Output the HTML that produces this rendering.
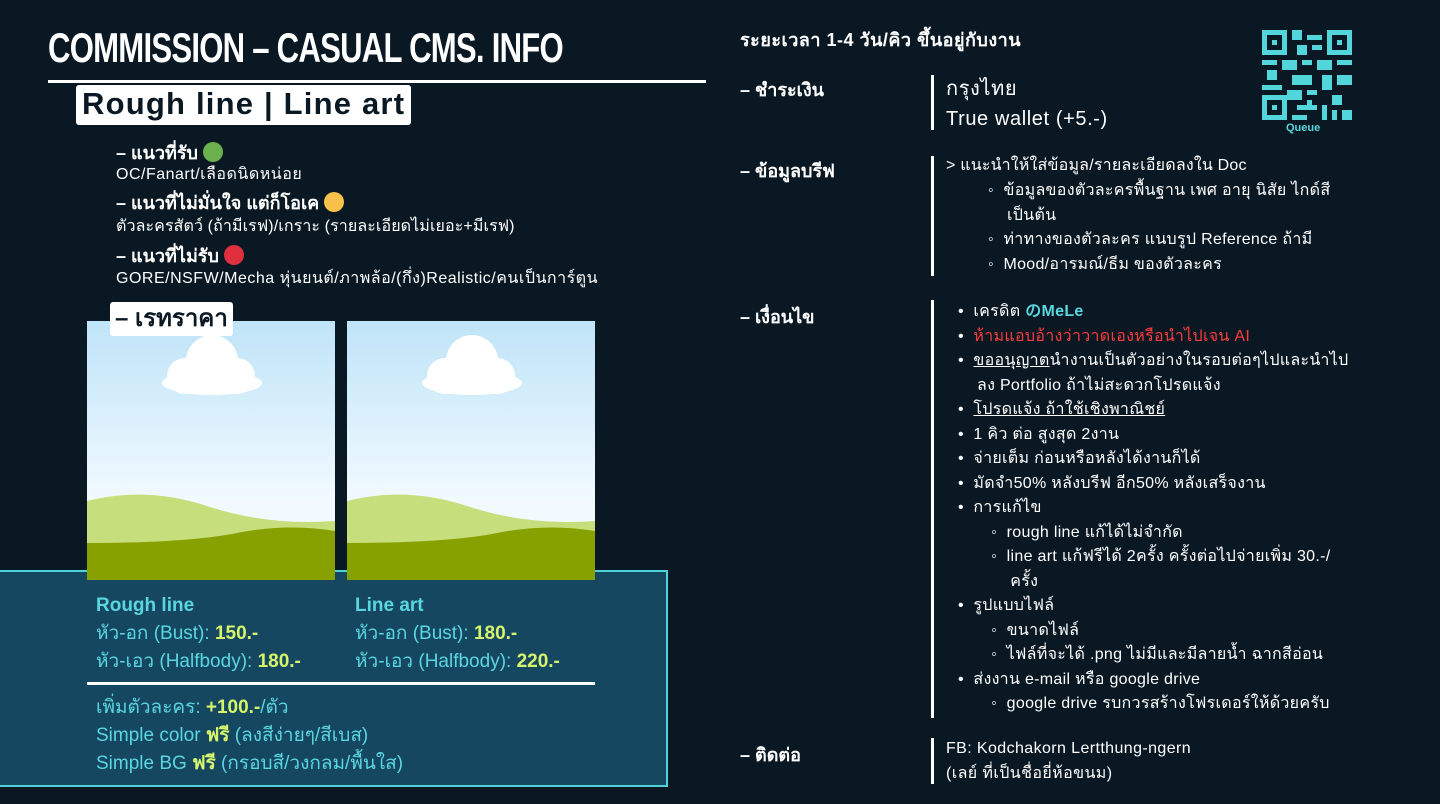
<!DOCTYPE html>
<html><head><meta charset="utf-8"><style>
body{margin:0;width:1440px;height:804px;background:#0a1823;position:relative;overflow:hidden;font-family:"Liberation Sans","DejaVu Sans",sans-serif;color:#fff}
.a{position:absolute;white-space:nowrap}
.t{font-size:16px}
.b{font-weight:bold}
.cy{color:#5ad6de}.yg{color:#d6f56c;font-weight:bold}
.sky{position:absolute;top:321px;width:248px;height:259px;background:linear-gradient(#bfe4f8,#f2faff 70%);overflow:hidden}
</style></head><body>
<div class="a b" style="left:48px;top:24px;font-size:42px;letter-spacing:-1px;transform:scaleX(.74);transform-origin:left;font-family:'Liberation Sans Narrow','Liberation Sans',sans-serif">COMMISSION – CASUAL CMS. INFO</div>
<div class="a" style="left:48px;top:80px;width:658px;height:3px;background:#fff"></div>
<div class="a b" style="left:76px;top:85px;padding:0 6px;height:40px;line-height:38px;background:#fff;color:#0a1823;font-size:31px;letter-spacing:1.2px;border-radius:3px">Rough line | Line art</div>
<div class="a b" style="left:116px;top:138px;font-size:18px">– แนวที่รับ <span style="display:inline-block;width:20px;height:20px;border-radius:50%;background:#6ab04c;vertical-align:-3px"></span></div>
<div class="a t" style="left:116px;top:162px;letter-spacing:.5px">OC/Fanart/เลือดนิดหน่อย</div>
<div class="a b" style="left:116px;top:188px;font-size:18px">– แนวที่ไม่มั่นใจ แต่ก็โอเค <span style="display:inline-block;width:20px;height:20px;border-radius:50%;background:#f8c24a;vertical-align:-3px"></span></div>
<div class="a t" style="left:116px;top:214px;letter-spacing:.1px">ตัวละครสัตว์ (ถ้ามีเรฟ)/เกราะ (รายละเอียดไม่เยอะ+มีเรฟ)</div>
<div class="a b" style="left:116px;top:241px;font-size:18px">– แนวที่ไม่รับ <span style="display:inline-block;width:20px;height:20px;border-radius:50%;background:#e0303f;vertical-align:-3px"></span></div>
<div class="a t" style="left:116px;top:266px;letter-spacing:.5px">GORE/NSFW/Mecha หุ่นยนต์/ภาพล้อ/(กึ่ง)Realistic/คนเป็นการ์ตูน</div>

<div class="a" style="left:0;top:570px;width:666px;height:213px;background:#154860;border:2px solid #4fd2d9;border-left:none"></div>
<div class="sky" style="left:87px"><svg width="248" height="259"><ellipse cx="125" cy="62" rx="50" ry="12" fill="#fff"/><circle cx="125" cy="40" r="26" fill="#fff"/><circle cx="98" cy="55" r="18" fill="#fff"/><circle cx="150" cy="55" r="18" fill="#fff"/><path d="M0 180 Q60 165 120 185 T248 200 V259 H0Z" fill="#c6de7c"/><path d="M0 222 Q100 222 150 212 T248 210 V259 H0Z" fill="#87a100"/></svg></div>
<div class="sky" style="left:347px"><svg width="248" height="259"><ellipse cx="125" cy="62" rx="50" ry="12" fill="#fff"/><circle cx="125" cy="40" r="26" fill="#fff"/><circle cx="98" cy="55" r="18" fill="#fff"/><circle cx="150" cy="55" r="18" fill="#fff"/><path d="M0 180 Q60 165 120 185 T248 200 V259 H0Z" fill="#c6de7c"/><path d="M0 222 Q100 222 150 212 T248 210 V259 H0Z" fill="#87a100"/></svg></div>
<div class="a b" style="left:110px;top:302px;padding:0 5px;height:34px;line-height:34px;background:#fff;color:#0a1823;font-size:24px;border-radius:3px">– เรทราคา</div>

<div class="a cy" style="left:96px;top:592px;font-size:19px;line-height:28px"><b>Rough line</b><br>หัว-อก (Bust): <span class="yg">150.-</span><br>หัว-เอว (Halfbody): <span class="yg">180.-</span></div>
<div class="a cy" style="left:355px;top:592px;font-size:19px;line-height:28px"><b>Line art</b><br>หัว-อก (Bust): <span class="yg">180.-</span><br>หัว-เอว (Halfbody): <span class="yg">220.-</span></div>
<div class="a" style="left:87px;top:682px;width:508px;height:3px;background:#fff"></div>
<div class="a cy" style="left:96px;top:694px;font-size:19px;line-height:28px">เพิ่มตัวละคร: <span class="yg">+100.-</span>/ตัว<br>Simple color <span class="yg">ฟรี</span> (ลงสีง่ายๆ/สีเบส)<br>Simple BG <span class="yg">ฟรี</span> (กรอบสี/วงกลม/พื้นใส)</div>

<div class="a b" style="left:740px;top:25px;font-size:18px;letter-spacing:.5px">ระยะเวลา 1-4 วัน/คิว ขึ้นอยู่กับงาน</div>
<svg class="a" style="left:1262px;top:30px" width="90" height="90" viewBox="0 0 18 18" shape-rendering="crispEdges"><g fill="#52d6dc"><path d="M0 0h5v5H0zM13 0h5v5h-5zM0 13h5v5H0z"/></g><g fill="#0a1823"><path d="M1 1h3v3H1zM14 1h3v3h-3zM1 14h3v3H1z"/></g><g fill="#52d6dc"><path d="M2 2h1v1H2zM15 2h1v1h-1zM2 15h1v1H2zM6 0h2v2H6zM9 1h3v1H9zM7 3h2v2H7zM10 3h2v1h-2zM0 6h3v1H0zM4 6h3v2H4zM8 6h2v1H8zM11 6h3v2h-3zM15 6h3v1h-3zM1 8h2v2H1zM6 9h4v2H6zM12 9h2v3h-2zM15 9h3v2h-3zM0 11h4v1H0zM5 12h3v2H5zM9 12h2v1H9zM14 13h2v2h-2zM7 15h4v1H7zM12 15h1v3h-1zM16 16h2v2h-2zM6 17h3v1H6zM9 14h1v2H9zM14 16h1v2h-1z"/></g></svg>
<div class="a b cy" style="left:1286px;top:122px;font-size:11px">Queue</div>

<div class="a b" style="left:740px;top:75px;font-size:18px">– ชำระเงิน</div>
<div class="a" style="left:931px;top:75px;width:3px;height:55px;background:#fff"></div>
<div class="a" style="left:946px;top:74px;font-size:20px;line-height:30px;letter-spacing:.6px">กรุงไทย<br>True wallet (+5.-)</div>

<div class="a b" style="left:740px;top:156px;font-size:18px">– ข้อมูลบรีฟ</div>
<div class="a" style="left:931px;top:156px;width:3px;height:120px;background:#fff"></div>
<div class="a t" style="left:946px;top:154px;line-height:24.5px;letter-spacing:.2px">&gt; แนะนำให้ใส่ข้อมูล/รายละเอียดลงใน Doc</div>
<div class="a t" style="left:988px;top:179px;line-height:24.5px;letter-spacing:.3px">◦ &nbsp;ข้อมูลของตัวละครพื้นฐาน เพศ อายุ นิสัย ไกด์สี<br>&nbsp;&nbsp;&nbsp;&nbsp;เป็นต้น<br>◦ &nbsp;ท่าทางของตัวละคร แนบรูป Reference ถ้ามี<br>◦ &nbsp;Mood/อารมณ์/ธีม ของตัวละคร</div>

<div class="a b" style="left:740px;top:302px;font-size:18px">– เงื่อนไข</div>
<div class="a" style="left:931px;top:300px;width:3px;height:418px;background:#fff"></div>
<div class="a t" style="left:958px;top:300px;line-height:24.5px;letter-spacing:.3px">
• &nbsp;เครดิต <b class="cy">のMeLe</b><br>
• &nbsp;<span style="color:#ff3b3b">ห้ามแอบอ้างว่าวาดเองหรือนำไปเจน AI</span><br>
• &nbsp;<u>ขออนุญาต</u>นำงานเป็นตัวอย่างในรอบต่อๆไปและนำไป<br>&nbsp;&nbsp;&nbsp;&nbsp;ลง Portfolio ถ้าไม่สะดวกโปรดแจ้ง<br>
• &nbsp;<u>โปรดแจ้ง ถ้าใช้เชิงพาณิชย์</u><br>
• &nbsp;1 คิว ต่อ สูงสุด 2งาน<br>
• &nbsp;จ่ายเต็ม ก่อนหรือหลังได้งานก็ได้<br>
• &nbsp;มัดจำ50% หลังบรีฟ อีก50% หลังเสร็จงาน<br>
• &nbsp;การแก้ไข<br>
&nbsp;&nbsp;&nbsp;&nbsp;&nbsp;&nbsp;&nbsp;◦ &nbsp;rough line แก้ได้ไม่จำกัด<br>
&nbsp;&nbsp;&nbsp;&nbsp;&nbsp;&nbsp;&nbsp;◦ &nbsp;line art แก้ฟรีได้ 2ครั้ง ครั้งต่อไปจ่ายเพิ่ม 30.-/<br>
&nbsp;&nbsp;&nbsp;&nbsp;&nbsp;&nbsp;&nbsp;&nbsp;&nbsp;&nbsp;&nbsp;ครั้ง<br>
• &nbsp;รูปแบบไฟล์<br>
&nbsp;&nbsp;&nbsp;&nbsp;&nbsp;&nbsp;&nbsp;◦ &nbsp;ขนาดไฟล์<br>
&nbsp;&nbsp;&nbsp;&nbsp;&nbsp;&nbsp;&nbsp;◦ &nbsp;ไฟล์ที่จะได้ .png ไม่มีและมีลายน้ำ ฉากสีอ่อน<br>
• &nbsp;ส่งงาน e-mail หรือ google drive<br>
&nbsp;&nbsp;&nbsp;&nbsp;&nbsp;&nbsp;&nbsp;◦ &nbsp;google drive รบกวรสร้างโฟรเดอร์ให้ด้วยครับ</div>

<div class="a b" style="left:740px;top:740px;font-size:18px">– ติดต่อ</div>
<div class="a" style="left:931px;top:738px;width:3px;height:46px;background:#fff"></div>
<div class="a t" style="left:946px;top:737px;line-height:24.5px;letter-spacing:.4px">FB: Kodchakorn Lertthung-ngern<br>(เลย์ ที่เป็นชื่อยี่ห้อขนม)</div>
</body></html>
